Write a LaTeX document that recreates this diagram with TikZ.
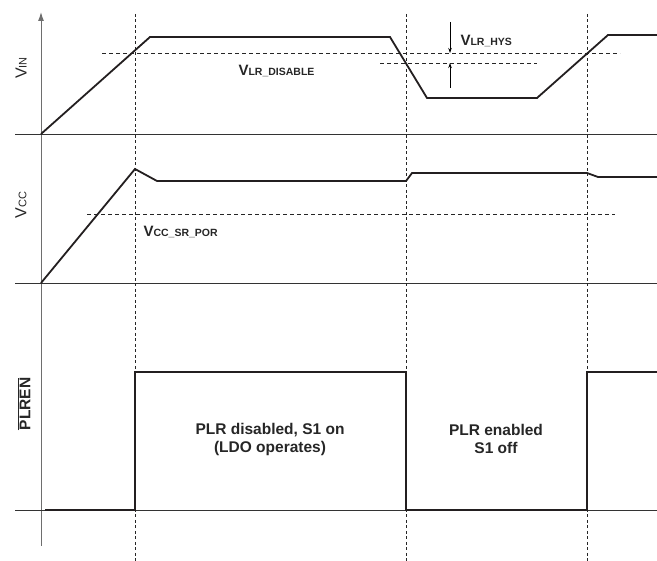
\documentclass[tikz,border=0pt]{standalone}
\usepackage{fontspec}
\setmainfont{Liberation Sans}
\newfontface\lblbf{Liberation Sans Bold}
\usetikzlibrary{arrows.meta}
\definecolor{wavecol}{HTML}{231F20}
\definecolor{axiscol}{HTML}{6E6E6E}
\newcommand{\vsub}[2]{{\lblbf\fontsize{15}{15}\selectfont #1}{\lblbf\fontsize{10.5}{10.5}\selectfont #2}}
\tikzset{
  wave/.style={line width=1.8pt, draw=wavecol, line join=miter},
  zeroline/.style={line width=0.9pt, draw=black!80},
  vaxis/.style={line width=1pt, draw=axiscol},
  vmark/.style={line width=0.8pt, draw=black!85, dash pattern=on 3pt off 2.5pt},
  hmark/.style={line width=0.8pt, draw=black!85, dash pattern=on 4pt off 3pt},
  hysarrow/.style={line width=0.7pt, -{Stealth[length=5pt,width=3.5pt]}},
  axislabel/.style={rotate=90, text=black!85},
  levellabel/.style={anchor=base west, text=black!85},
  statetext/.style={align=center, font=\fontsize{15.5}{18}\selectfont\lblbf, text=black!85}
}
\begin{document}
\begin{tikzpicture}[x=1pt, y=-1pt]
  \useasboundingbox (0,0) rectangle (657,561);
  \draw[vaxis, -{Latex[length=9pt,width=6pt]}] (41,546) -- (41,12);
  \draw[zeroline] (15,134) -- (657,134);
  \draw[zeroline] (15,283) -- (657,283);
  \draw[zeroline] (15,510) -- (657,510);
  \begin{scope}[vmark]
    \draw (135,14) -- (135,561);
    \draw (406,14) -- (406,561);
    \draw (587,14) -- (587,561);
  \end{scope}
  \begin{scope}[hmark]
    \draw (102,53) -- (620,53);
    \draw (380,63) -- (537,63);
    \draw (87,214) -- (615,214);
  \end{scope}
  \draw[wave] (41,134) -- (150,37) -- (390,37) -- (427,98) -- (537,98) -- (608,35) -- (657,35);
  \draw[wave] (41,283) -- (135,169) -- (157,181) -- (406,181) -- (412,173) -- (587,173) -- (598,177) -- (657,177);
  \draw[wave] (45,510) -- (135,510) -- (135,372) -- (406,372) -- (406,510) -- (587,510) -- (587,372) -- (657,372);
  \coordinate (hystop) at (450,22);
  \coordinate (hyshi) at (450,53);
  \coordinate (hysbot) at (450,88);
  \coordinate (hyslo) at (450,63);
  \draw[hysarrow] (hystop) -- (hyshi);
  \draw[hysarrow] (hysbot) -- (hyslo);
  \draw
    (21,68) node[axislabel] (vin){\fontsize{16}{16}\selectfont V\fontsize{11}{11}\selectfont IN}
    (21,205) node[axislabel] (vcc){\fontsize{16}{16}\selectfont V\fontsize{11}{11}\selectfont CC}
    (24,404) node[axislabel] (plren){\fontsize{15.5}{18}\selectfont$\overline{\hbox{\lblbf PLREN}}$}
    (457,46) node[levellabel] (vhys){\vsub{V}{LR\_HYS}}
    (235,76) node[levellabel] (vdis){\vsub{V}{LR\_DISABLE}}
    (140,237) node[levellabel] (vpor){\vsub{V}{CC\_SR\_POR}}
    (270,439) node[statetext] (plroff){PLR disabled, S1 on\\(LDO operates)}
    (496,439) node[statetext] (plron){PLR enabled\\S1 off};
\end{tikzpicture}
\end{document}
